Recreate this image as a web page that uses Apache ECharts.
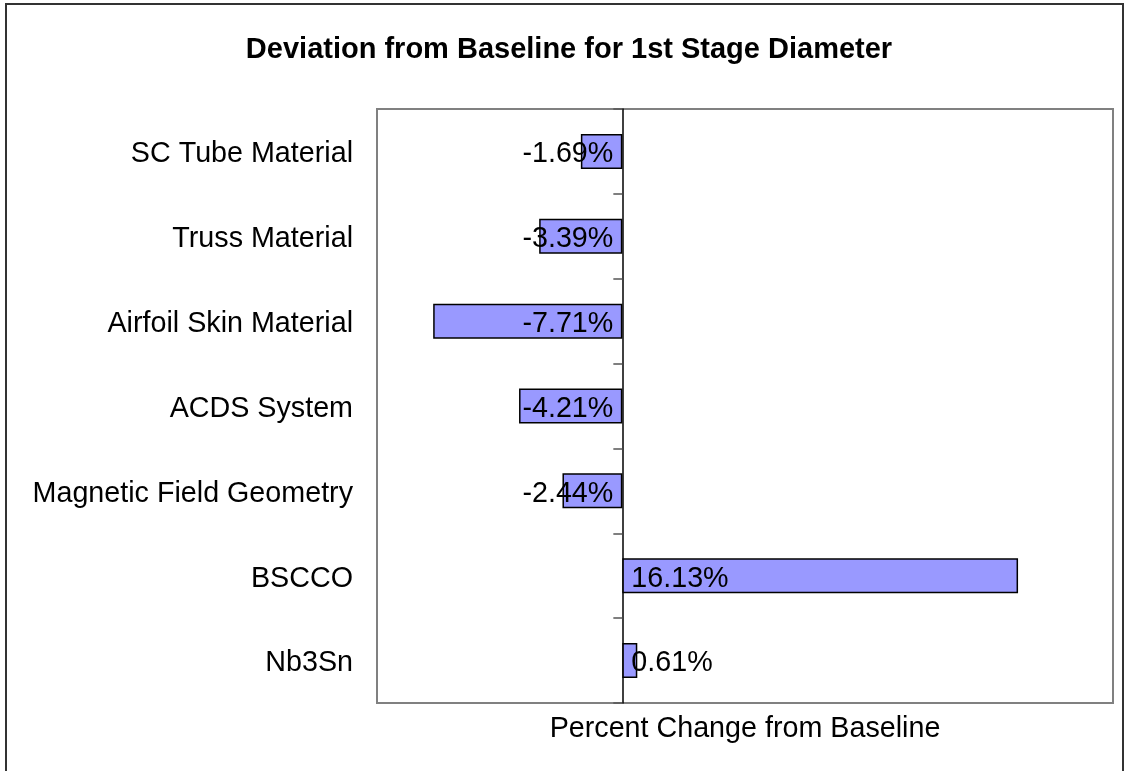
<!DOCTYPE html>
<html>
<head>
<meta charset="utf-8">
<script src="https://cdn.jsdelivr.net/npm/echarts@6/dist/echarts.min.js"></script>
<style>
  html, body { margin: 0; padding: 0; background: #ffffff; }
  #main { width: 1124px; height: 771px; }
</style>
</head>
<body>
<div id="main"></div>
<script>
// categories top to bottom, values in percent
const categories = ['SC Tube Material', 'Truss Material', 'Airfoil Skin Material', 'ACDS System', 'Magnetic Field Geometry', 'BSCCO', 'Nb3Sn'];
const deviation = [-1.69, -3.39, -7.71, -4.21, -2.44, 16.13, 0.61];

const chartDom = document.getElementById('main');
const myChart = echarts.init(chartDom);

const FONT = '"Liberation Sans", Arial, sans-serif';
const FS = 28.7;

const option = {
    backgroundColor: '#ffffff',
    animation: false,
    title: {
        text: 'Deviation from Baseline for 1st Stage Diameter',
        left: 564,
        top: 30,
        textAlign: 'center',
        textStyle: {
            fontFamily: FONT,
            fontSize: 29,
            fontWeight: 'bold',
            color: '#000000'
        }
    },
    // outer chart frame
    graphic: [{
        type: 'rect',
        shape: { x: 6, y: 4, width: 1117, height: 800 },
        style: { fill: null, stroke: '#333333', lineWidth: 2 },
        silent: true
    }],
    grid: [
        {
            left: 377,
            right: 11,
            top: 109,
            bottom: 68,
            show: true,
            borderColor: '#808080',
            borderWidth: 2,
            backgroundColor: '#ffffff'
        },
        {
            // same plot box nudged down a little, only carries the category names
            left: 377,
            right: 11,
            top: 112,
            bottom: 65,
            show: false
        }
    ],
    xAxis: [
        {
            type: 'value',
            gridIndex: 0,
            min: -10,
            max: 20,
            interval: 5,
            name: 'Percent Change from Baseline',
            nameLocation: 'middle',
            nameGap: 12,
            nameTextStyle: {
                fontFamily: FONT,
                fontSize: FS,
                color: '#000000',
                verticalAlign: 'top'
            },
            axisLine: { show: false },
            axisTick: { show: false },
            axisLabel: { show: false },
            splitLine: { show: false }
        },
        {
            type: 'value',
            gridIndex: 1,
            min: -10,
            max: 20,
            show: false
        }
    ],
    yAxis: [
        {
            // axis line through zero with ticks between categories
            type: 'category',
            gridIndex: 0,
            data: categories,
            inverse: true,
            axisLine: { show: true, onZero: true, lineStyle: { color: '#000000', width: 1.5 } },
            axisTick: { show: true, length: 9, lineStyle: { color: '#555555', width: 1.5 } },
            axisLabel: { show: false },
            splitLine: { show: false }
        },
        {
            // category names at the left of the plot
            type: 'category',
            gridIndex: 1,
            data: categories,
            inverse: true,
            position: 'left',
            axisLine: { show: false, onZero: false },
            axisTick: { show: false },
            axisLabel: {
                margin: 24,
                fontFamily: FONT,
                fontSize: FS,
                color: '#000000'
            },
            splitLine: { show: false }
        }
    ],
    series: [
        {
            name: 'Deviation',
            type: 'bar',
            xAxisIndex: 0,
            yAxisIndex: 0,
            barWidth: 35,
            data: deviation.map(v => ({
                value: v,
                label: { position: v < 0 ? 'insideRight' : 'insideLeft' }
            })),
            itemStyle: {
                color: '#9999ff',
                borderColor: '#000000',
                borderWidth: 1.5
            },
            label: {
                show: true,
                distance: 9,
                offset: [0, 3],
                fontFamily: FONT,
                fontSize: FS,
                color: '#000000',
                formatter: p => p.value.toFixed(2) + '%'
            }
        }
    ]
};

myChart.setOption(option);
</script>
</body>
</html>
